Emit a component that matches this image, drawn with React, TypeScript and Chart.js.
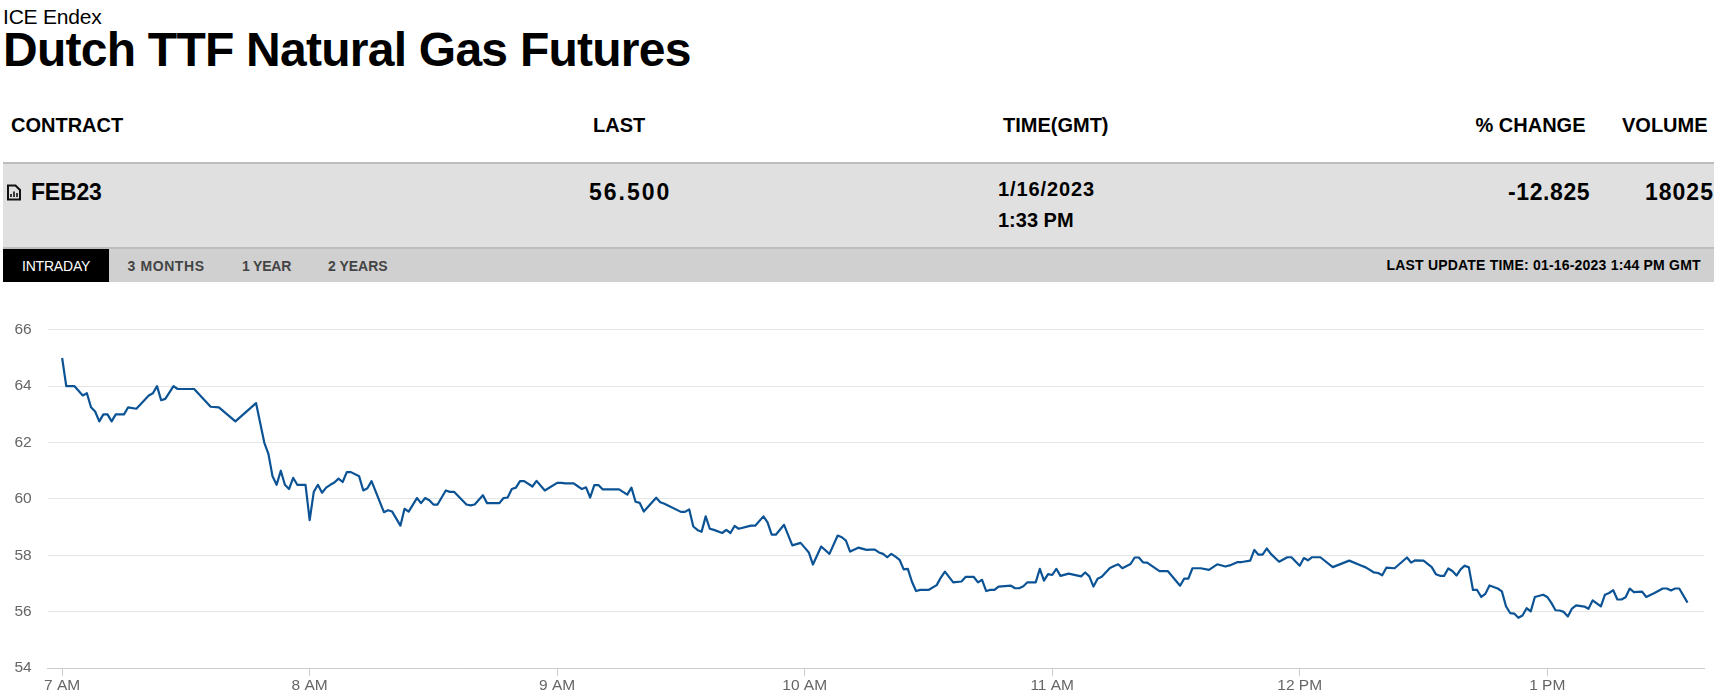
import React, { useEffect, useRef } from "react";
import { Chart, registerables } from "chart.js";

Chart.register(...registerables);

const minutes = [
  0,1,3,5,6,7,8,9,10,11,12,13,15,16,18,21,22,23,24,25,27,28,32,36,38,42,47,49,50,51,52,53,54,55,56,57,59,60,61,62,63,
  64,65,66,67,68,69,70,72,73,74,75,78,79,80,82,83,84,86,87,88,89,90,91,93,94,95,98,99,100,102,103,106,107,108,109,110,111,112,114,115,117,120,121,122,124,125,126,127,128,129,130,131,135,
  137,138,139,140,141,144,145,146,150,151,152,153,154,155,156,157,158,160,161,162,163,164,167,168,170,171,172,173,175,177,179,180,181,182,184,186,188,189,190,191,193,195,196,197,198,199,200,201,202,203,
  204,205,206,207,208,210,212,213,214,216,218,219,221,222,223,224,225,226,227,230,231,232,233,234,236,237,238,239,240,241,242,244,247,248,249,250,251,252,254,255,256,257,259,260,261,262,263,266,268,271,272,273,274,276,
  278,280,282,283,285,286,288,289,290,291,292,293,295,297,298,300,301,302,303,305,308,312,315,316,318,319,320,321,323,326,327,328,330,332,333,334,335,336,337,338,339,340,341,342,343,344,345,346,348,349,350,351,352,353,354,355,356,357,359,360,361,362,363,364,365,366,367,369,370,371,373,374,375,376,377,378,379,380,381,383,384,386,388,389,390,391,392,394,
];

const prices = [
  65,64,64,63.67,63.75,63.25,63.1,62.75,63,63,62.75,63,63,63.25,63.2,63.67,63.75,64,63.5,63.55,64,63.9,63.9,63.27,63.25,62.75,63.4,62,61.6,60.8,60.5,61,60.5,60.35,60.75,60.5,60.5,59.25,60.25,60.5,60.22,
  60.4,60.5,60.58,60.72,60.6,60.95,60.95,60.8,60.3,60.38,60.63,59.53,59.6,59.55,59.05,59.65,59.55,60.03,59.85,60.03,59.95,59.8,59.8,60.3,60.25,60.25,59.8,59.77,59.8,60.13,59.85,59.85,60.03,60.05,60.35,60.4,60.63,60.63,60.44,60.64,60.3,60.57,60.57,60.55,60.55,60.45,60.35,60.41,60.05,60.49,60.49,60.34,60.34,
  60.15,60.4,59.9,59.86,59.55,60.04,59.88,59.83,59.54,59.54,59.63,59.02,58.9,58.83,59.38,58.94,58.9,58.79,58.9,58.79,59.04,58.94,59.05,59.05,59.38,59.17,58.73,58.73,59.08,58.35,58.44,58.27,58.1,57.67,58.31,58.05,58.7,58.64,58.52,58.13,58.27,58.19,58.2,58.2,58.1,58.05,57.93,58.05,57.95,57.84,
  57.5,57.52,57.06,56.73,56.77,56.77,56.94,57.21,57.42,57.04,57.07,57.23,57.23,57.04,57.13,56.73,56.77,56.77,56.89,56.92,56.83,56.83,56.9,57.04,57.04,57.52,57.1,57.33,57.3,57.52,57.27,57.35,57.25,57.39,57.25,56.89,57.17,57.24,57.55,57.62,57.68,57.54,57.69,57.92,57.92,57.75,57.74,57.44,57.44,56.92,57.17,57.17,57.54,57.54,
  57.48,57.68,57.6,57.64,57.76,57.76,57.81,58.19,58.02,58.02,58.24,58.05,57.77,57.93,57.93,57.63,57.9,57.82,57.93,57.93,57.58,57.81,57.63,57.57,57.39,57.37,57.29,57.56,57.54,57.92,57.74,57.82,57.81,57.58,57.33,57.27,57.27,57.53,57.44,57.28,57.5,57.63,57.57,56.77,56.77,56.52,56.63,56.93,56.82,56.72,56.19,55.95,55.93,55.78,55.86,56.12,56.01,56.52,56.6,56.52,56.31,56.05,56.04,55.99,55.83,56.11,56.22,56.18,56.1,56.4,56.19,56.6,56.66,56.76,56.43,56.43,56.51,56.82,56.69,56.71,56.52,56.66,56.82,56.82,56.75,56.82,56.82,56.32,
];

const tickMinutes = [0, 60, 120, 180, 240, 300, 360];
const tickLabels = ["7 AM", "8 AM", "9 AM", "10 AM", "11 AM", "12 PM", "1 PM"];
const yTicks = [54, 56, 58, 60, 62, 64, 66];

const headers = [
  { text: "CONTRACT", left: 11 },
  { text: "LAST", left: 593 },
  { text: "TIME(GMT)", left: 1003 },
  { text: "% CHANGE", left: 1475.5 },
  { text: "VOLUME", left: 1622 },
];
const tabs = [
  { text: "3 MONTHS", left: 127.5, ls: 0.6 },
  { text: "1 YEAR", left: 242, ls: -0.2 },
  { text: "2 YEARS", left: 328, ls: 0 },
];

const FONT = '"Liberation Sans", Arial, sans-serif';

function Txt(p: { left: number; cy: number; size: number; weight?: number; color?: string; ls?: number; children: React.ReactNode }) {
  return (
    <span
      style={{
        position: "absolute",
        left: p.left,
        top: p.cy - p.size,
        height: p.size * 2,
        lineHeight: `${p.size * 2}px`,
        fontFamily: FONT,
        fontSize: p.size,
        fontWeight: p.weight ?? 700,
        color: p.color ?? "#000",
        letterSpacing: p.ls ?? 0,
        whiteSpace: "nowrap",
      }}
    >
      {p.children}
    </span>
  );
}

export default function App() {
  const ref = useRef<HTMLCanvasElement>(null);
  useEffect(() => {
    document.body.style.margin = "0";
    document.body.style.background = "#fff";
    const chart = new Chart(ref.current!, {
      type: "line",
      data: {
        datasets: [
          {
            data: minutes.map((m, i) => ({ x: m, y: prices[i] })),
            borderColor: "#0b5394",
            borderWidth: 2.2,
            borderJoinStyle: "round",
            pointRadius: 0,
            tension: 0,
          },
        ],
      },
      options: {
        animation: false,
        responsive: false,
        maintainAspectRatio: false,
        layout: { padding: { top: 39.8, right: 20, bottom: 0, left: 0 } },
        plugins: { legend: { display: false }, tooltip: { enabled: false } },
        scales: {
          x: {
            type: "linear",
            min: -3.5,
            max: 398,
            afterBuildTicks: (s: any) => {
              s.ticks = tickMinutes.map((v) => ({ value: v }));
            },
            afterFit: (s: any) => {
              s.height = 30;
            },
            grid: { display: true, drawOnChartArea: false, drawTicks: true, tickLength: 8, color: "#ccc" },
            border: { display: true, color: "#ccc" },
            ticks: {
              autoSkip: false,
              maxRotation: 0,
              padding: 0,
              color: "#666",
              font: { family: FONT, size: 15.5 },
              callback: (v: any) => tickLabels[tickMinutes.indexOf(v)] ?? "",
            },
          },
          y: {
            min: 54,
            max: 66,
            afterBuildTicks: (s: any) => {
              s.ticks = yTicks.map((v) => ({ value: v }));
            },
            afterFit: (s: any) => {
              s.width = 47.7;
            },
            grid: { color: "#e6e6e6", drawTicks: false },
            border: { display: false },
            ticks: {
              padding: 16,
              color: "#666",
              font: { family: FONT, size: 15.5 },
            },
          },
        },
      },
    } as any);
    return () => chart.destroy();
  }, []);

  return (
    <div style={{ position: "absolute", left: 0, top: 0, width: 1724, height: 698, overflow: "hidden", background: "#fff" }}>
      <Txt left={3} cy={17} size={21} weight={400} ls={-0.2}>ICE Endex</Txt>
      <Txt left={3} cy={50} size={48} ls={-0.75}>Dutch TTF Natural Gas Futures</Txt>
      {headers.map((h) => (
        <Txt key={h.text} left={h.left} cy={125} size={20} ls={0}>{h.text}</Txt>
      ))}
      <div style={{ position: "absolute", left: 3, top: 162, width: 1711, height: 87, background: "#e0e0e0", borderTop: "2px solid #bdbdbd", borderBottom: "2px solid #bdbdbd", boxSizing: "border-box" }} />
      <div style={{ position: "absolute", left: 3, top: 249, width: 1711, height: 33, background: "#d0d0d0" }} />
      <div style={{ position: "absolute", left: 3, top: 249, width: 106, height: 33, background: "#000" }} />
      <svg style={{ position: "absolute", left: 7, top: 184 }} width="14" height="17" viewBox="0 0 14 17">
        <path d="M1 1.5 H8.5 L13 6 V15.5 H1 Z" fill="none" stroke="#111" strokeWidth="2" />
        <path d="M4 13 V10 M7 13 V7.5 M10 13 V9" stroke="#111" strokeWidth="1.6" />
      </svg>
      <Txt left={31} cy={191.5} size={23} ls={-0.2}>FEB23</Txt>
      <Txt left={589} cy={192} size={23} ls={2}>56.500</Txt>
      <Txt left={998} cy={189} size={20} ls={0.9}>1/16/2023</Txt>
      <Txt left={998} cy={220} size={20} ls={0}>1:33 PM</Txt>
      <Txt left={1508} cy={192} size={23} ls={0.6}>-12.825</Txt>
      <Txt left={1645} cy={192} size={23} ls={1}>18025</Txt>
      <Txt left={22} cy={266} size={14} weight={400} color="#fff" ls={-0.2}>INTRADAY</Txt>
      {tabs.map((t) => (
        <Txt key={t.text} left={t.left} cy={266} size={14} color="#444" ls={t.ls}>{t.text}</Txt>
      ))}
      <Txt left={1386.5} cy={265} size={14} ls={0.2}>LAST UPDATE TIME: 01-16-2023 1:44 PM GMT</Txt>
      <canvas ref={ref} width={1724} height={408} style={{ position: "absolute", left: 0, top: 290, width: 1724, height: 408 }} />
    </div>
  );
}
